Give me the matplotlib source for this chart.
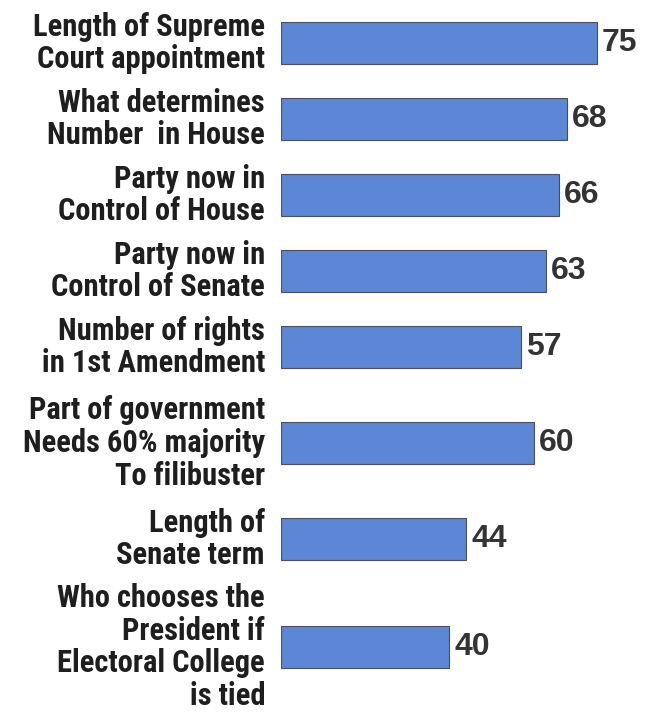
import matplotlib
matplotlib.use("Agg")
import matplotlib.pyplot as plt
from matplotlib import font_manager as fm

categories = [
    "Length of Supreme\nCourt appointment",
    "What determines\nNumber  in House",
    "Party now in\nControl of House",
    "Party now in\nControl of Senate",
    "Number of rights\nin 1st Amendment",
    "Part of government\nNeeds 60% majority\nTo filibuster",
    "Length of\nSenate term",
    "Who chooses the\nPresident if\nElectoral College\nis tied",
]
values = [75, 68, 66, 63, 57, 60, 44, 40]

names = {f.name for f in fm.fontManager.ttflist}
label_family = [f for f in ["Liberation Sans Narrow", "Roboto Condensed", "Roboto", "DejaVu Sans"] if f in names]

W, H = 657, 715
fig = plt.figure(figsize=(W / 100, H / 100), dpi=100)
left_px = 281
px_per_unit = 4.21
ax = fig.add_axes([left_px / W, 0, 1 - left_px / W, 1])
ax.set_xlim(0, (W - left_px) / px_per_unit)
ax.set_ylim(H, 0)

# vertical layout: slot height depends on number of label lines
slot = {2: 76, 3: 116, 4: 140}
centers = []
y = 5
prev = None
for c in categories:
    n = c.count("\n") + 1
    if prev is None:
        y += slot[n] / 2
    else:
        y += (slot[prev] + slot[n]) / 2
    centers.append(y)
    prev = n

ax.barh(centers, values, height=42, color="#5b87d6", edgecolor="#4a4f5a", linewidth=0.8)

for c, v, lab in zip(centers, values, categories):
    ax.annotate(lab, xy=(0, c), xytext=(-16, 0), textcoords="offset pixels",
                ha="right", va="center", fontsize=22, fontweight="bold",
                family=label_family, color="#1e1e1e", linespacing=1.12,
                annotation_clip=False)
    ax.annotate(str(v), xy=(v, c), xytext=(5, 0), textcoords="offset pixels",
                ha="left", va="center", fontsize=23, fontweight="bold",
                family=["Liberation Sans", "DejaVu Sans"], color="#333333")

ax.axis("off")
fig.savefig("out.png", dpi=100)
